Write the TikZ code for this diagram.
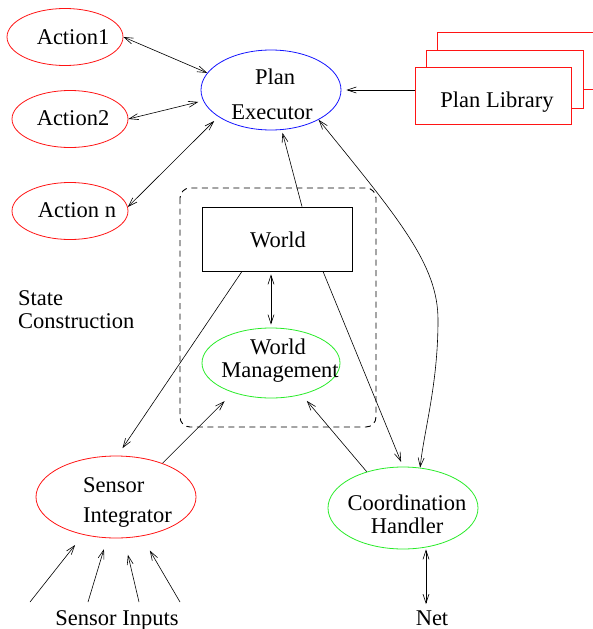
\documentclass[tikz,border=0pt]{standalone}
\usepackage{fontspec}
\setmainfont{Liberation Serif}
\usetikzlibrary{shapes.geometric,arrows.meta}
\definecolor{myred}{RGB}{255,20,20}
\definecolor{mygreen}{RGB}{40,235,40}
\definecolor{myblue}{RGB}{20,20,255}
\begin{document}
\begin{tikzpicture}[x=1pt,y=-1pt,
  >={Straight Barb[length=9pt,width=6pt]},
  ell/.style={ellipse,line width=0.8pt,inner sep=0pt,minimum width=#1},
  redell/.style={ell=116pt,draw=myred,minimum height=57pt},
  plrect/.style={rectangle,draw=myred,fill=white,line width=0.8pt,inner sep=0pt},
  txt/.style={anchor=base,inner sep=0pt,font=\fontsize{22.5}{26}\selectfont},
  ltxt/.style={anchor=base west,inner sep=0pt,font=\fontsize{22.5}{26}\selectfont},
  conn/.style={line width=0.6pt},
]
\useasboundingbox (0,0) rectangle (593,629);

% ellipses
\node[redell] (a1) at (65,37) {};
\node[redell] (a2) at (70,119) {};
\node[redell] (an) at (70,211) {};
\node[ell=140pt,draw=myblue,minimum height=80pt] (pe) at (271,90) {};
\node[ell=138pt,draw=mygreen,minimum height=70pt] (wm) at (271,363) {};
\node[ell=160pt,draw=myred,minimum height=82pt] (si) at (116,497) {};
\node[ell=150pt,draw=mygreen,minimum height=82pt] (ch) at (403,508) {};

% plan library stack
\node[plrect,minimum width=173pt,minimum height=57pt] (pl3) at (523.5,60.5) {};
\node[plrect,minimum width=157pt,minimum height=58pt] (pl2) at (504.5,79) {};
\node[plrect,minimum width=156pt,minimum height=57pt] (pl) at (493,95.5) {};

% world box and dashed region
\draw[line width=0.9pt,dash pattern=on 6pt off 4.5pt,rounded corners=10pt,draw=black] (180,188) rectangle (376,427);
\node[rectangle,draw,line width=0.8pt,minimum width=150pt,minimum height=64pt,inner sep=0pt] (world) at (277,239) {};

% texts
\node[txt] (ta1) at (73,44) {Action1};
\node[txt] (ta2) at (73,125) {Action2};
\node[txt] (tan) at (77,217) {Action n};
\node[txt] (tpe1) at (275,84) {Plan};
\node[txt] (tpe2) at (272,119) {Executor};
\node[txt] (tpl) at (497,107) {Plan Library};
\node[txt] (tw) at (278,247) {World};
\node[txt] (twm1) at (278,354) {World};
\node[txt] (twm2) at (280,377) {Management};
\node[ltxt] (tsc1) at (18,305) {State};
\node[ltxt] (tsc2) at (18,328) {Construction};
\node[ltxt] (tsi1) at (83,492) {Sensor};
\node[ltxt] (tsi2) at (83,522) {Integrator};
\node[txt] (tch1) at (407,510) {Coordination};
\node[txt] (tch2) at (407,533) {Handler};
\node[txt] (tin) at (117,625) {Sensor Inputs};
\node[txt] (net) at (432,625) {Net};

% sensor input free ends
\coordinate (s1) at (30,602);
\coordinate (s2) at (88,602);
\coordinate (s3) at (139,602);
\coordinate (s4) at (180,602);

% connectors
\draw[conn,<->] (a1.east) -- (pe.165);
\draw[conn,<->,shorten >=5pt] (a2.east) -- (pe.189);
\draw[conn,<->,shorten >=6pt] (an.4) -- (pe.207.3);
\draw[conn,->,shorten >=5pt] (pl.west |- pe.east) -- (pe.east);
\draw[conn,->,shorten >=3pt] ([xshift=25pt]world.north) -- (pe.285.6);
\draw[conn,<->,shorten <=3pt,shorten >=3pt] (world.south -| wm.north) -- (wm.north);
\draw[conn,->,shorten >=9pt] ([xshift=-35pt]world.south) -- (si.88);
\draw[conn,->,shorten >=5pt] ([xshift=46pt]world.south) -- (ch.north);
\draw[conn,->,shorten >=12pt] (si.36.5) -- (wm.218.8);
\draw[conn,->,shorten >=8pt] (ch.135) -- (wm.314);
\draw[conn,<->] (pe.328) .. controls (400,220) and (438,265) .. (438,320)
   .. controls (438,385) and (424,430) .. (ch.67.6);
\draw[conn,<->,shorten >=6pt] ([xshift=23pt]ch.south) -- ([xshift=23pt]ch.south |- net.north);
\draw[conn,->,shorten >=13pt] (s1) -- (si.229.6);
\draw[conn,->,shorten >=11.5pt] (s2) -- (si.258);
\draw[conn,->,shorten >=17pt] (s3) -- (si.281.7);
\draw[conn,->,shorten >=16.5pt] (s4) -- (si.303.4);
\end{tikzpicture}
\end{document}
